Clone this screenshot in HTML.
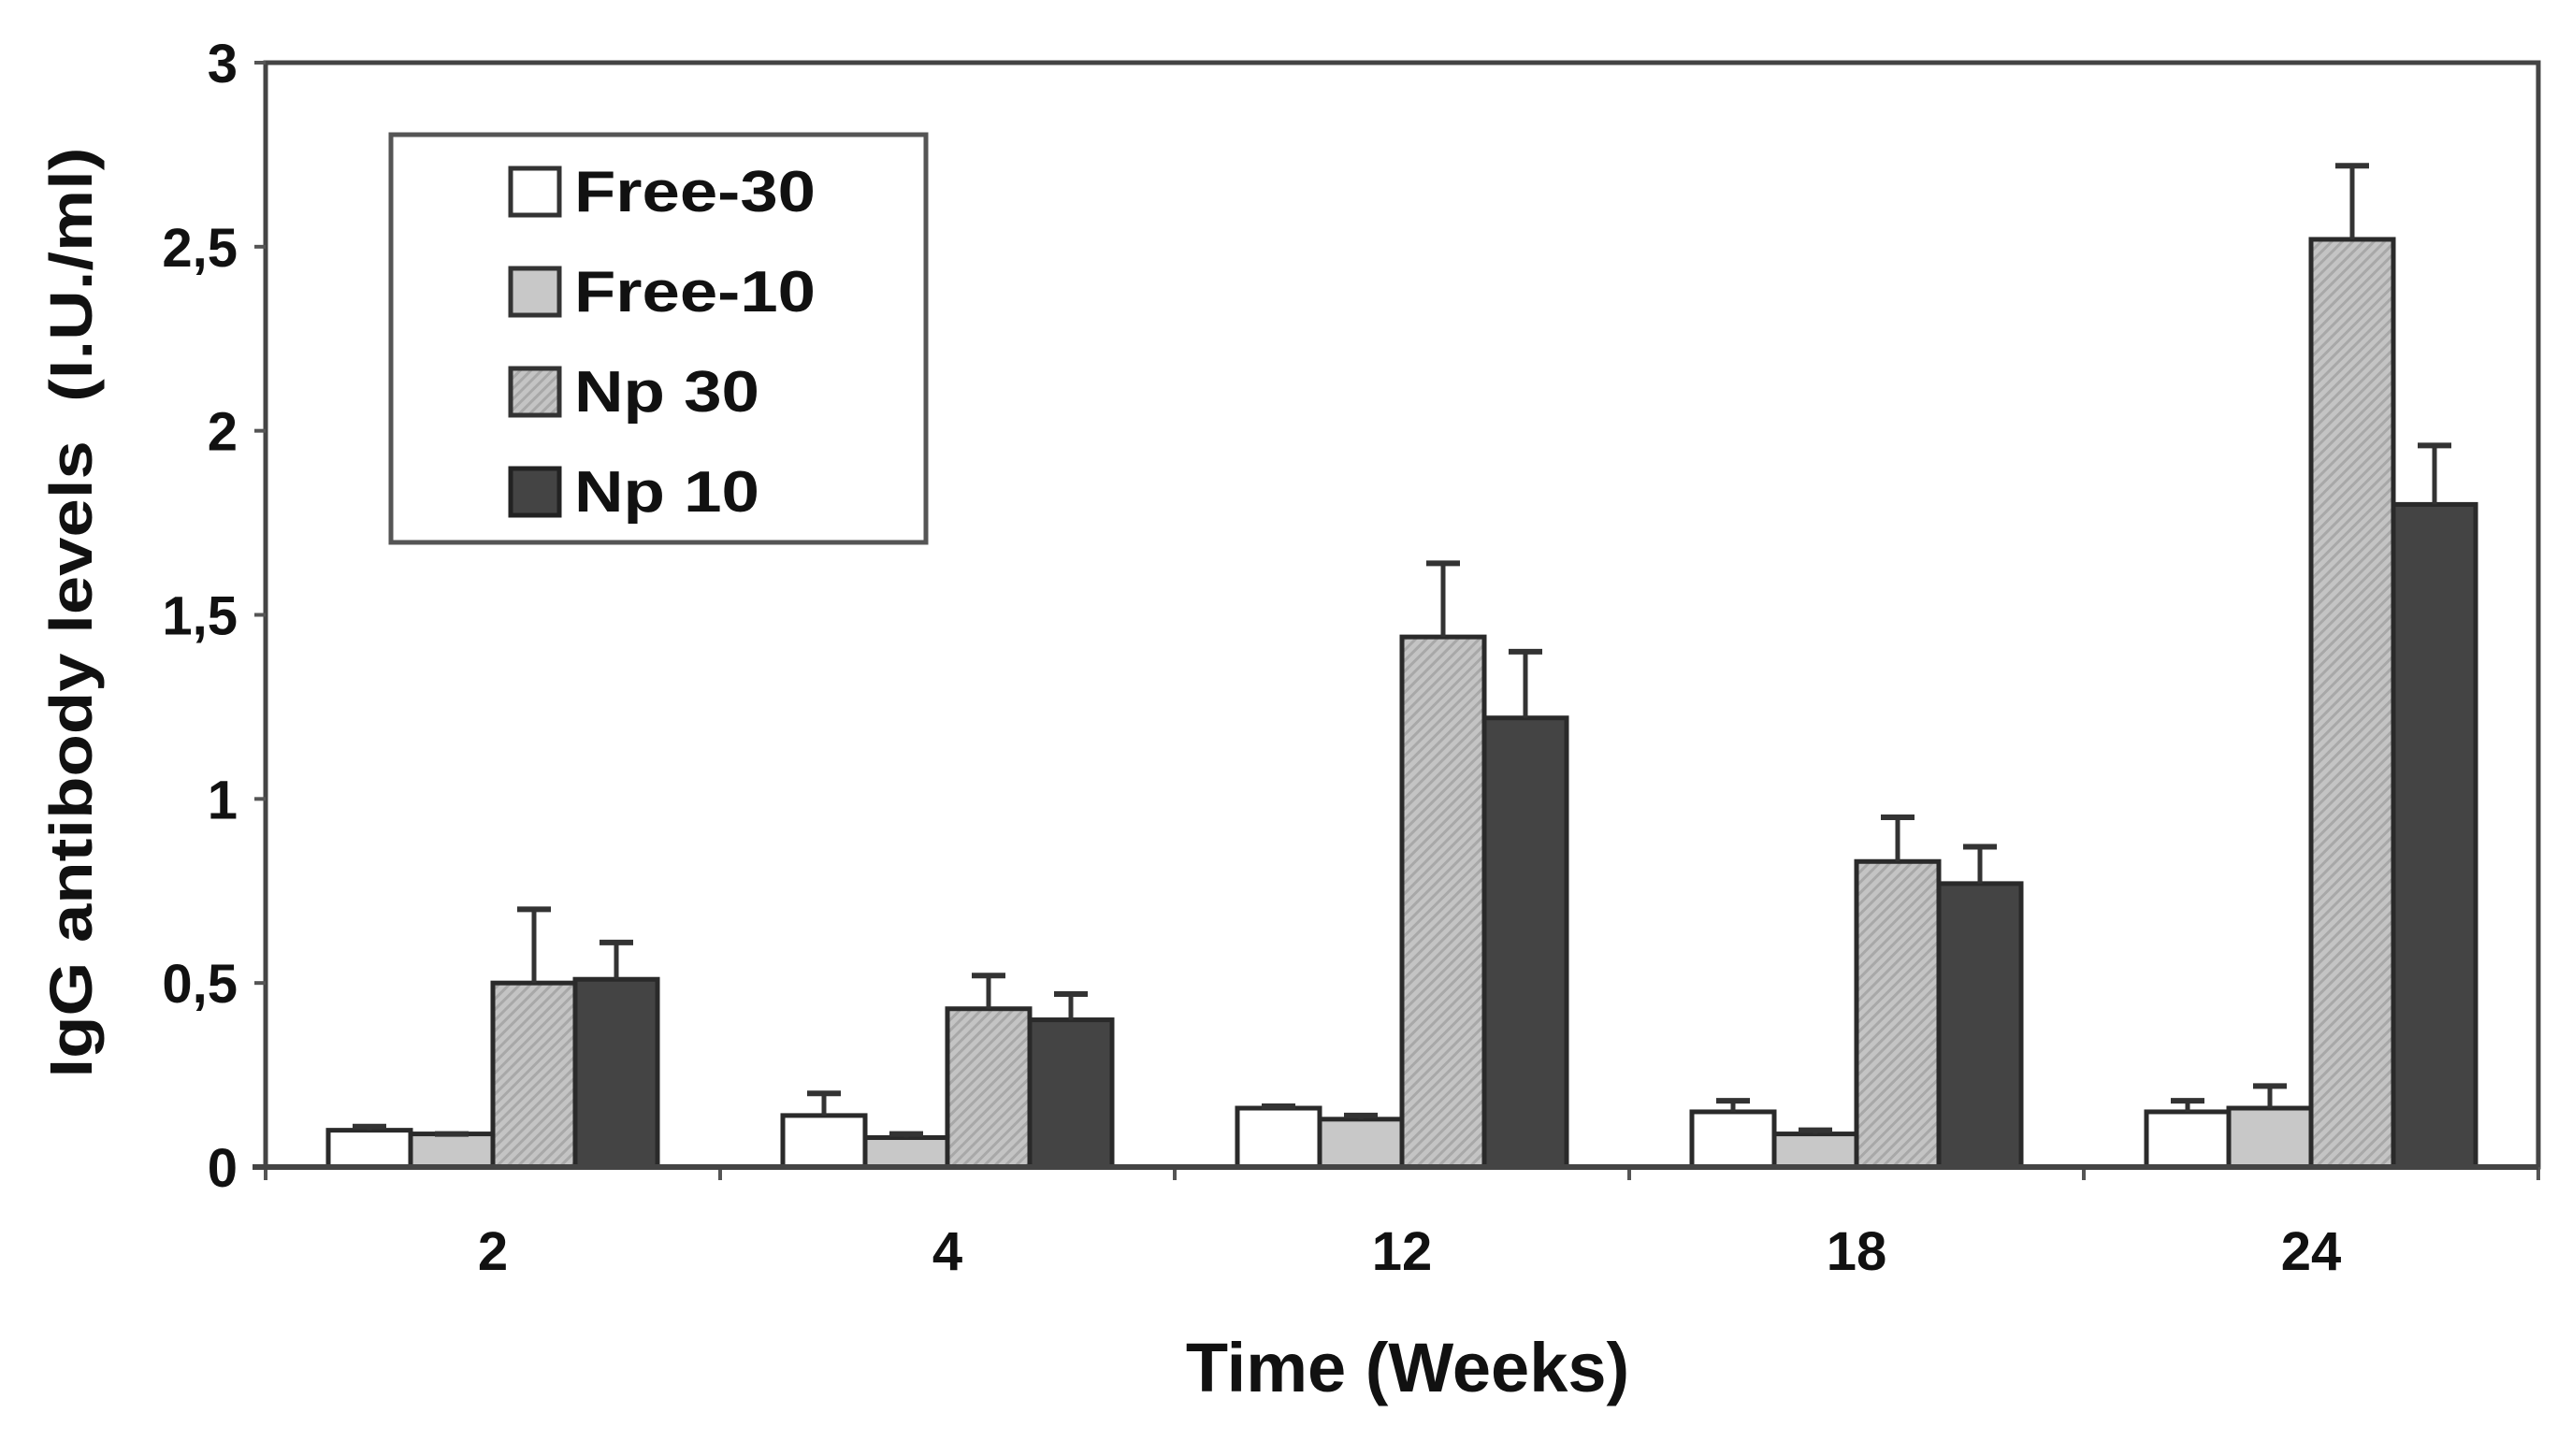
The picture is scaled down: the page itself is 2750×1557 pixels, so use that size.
<!DOCTYPE html>
<html><head><meta charset="utf-8"><style>
html,body{margin:0;padding:0;background:#fff;}
svg{display:block;font-family:"Liberation Sans",Arial,sans-serif;}
</style></head><body>
<svg id="chart" width="2750" height="1557" viewBox="0 0 2750 1557" xmlns="http://www.w3.org/2000/svg">
<defs>
<pattern id="hatch" patternUnits="userSpaceOnUse" width="8" height="8" patternTransform="rotate(45)">
<rect width="8" height="8" fill="#c4c4c4"/><rect width="3" height="8" fill="#a8a8a8"/>
</pattern>
</defs>
<g id="plot"></g>
<g id="legend">
<rect x="418" y="144" width="572" height="436" fill="#fff" stroke="#555" stroke-width="5"/>
<rect x="546" y="180" width="52" height="50" fill="#fff" stroke="#333" stroke-width="5"/>
<text x="614" y="226" font-size="62" font-weight="bold" fill="#111" textLength="258" lengthAdjust="spacingAndGlyphs">Free-30</text>
<rect x="546" y="287" width="52" height="50" fill="#c8c8c8" stroke="#333" stroke-width="5"/>
<text x="614" y="333" font-size="62" font-weight="bold" fill="#111" textLength="258" lengthAdjust="spacingAndGlyphs">Free-10</text>
<rect x="546" y="394" width="52" height="50" fill="url(#hatch)" stroke="#333" stroke-width="5"/>
<text x="614" y="440" font-size="62" font-weight="bold" fill="#111" textLength="198" lengthAdjust="spacingAndGlyphs">Np 30</text>
<rect x="546" y="501" width="52" height="50" fill="#444" stroke="#222" stroke-width="5"/>
<text x="614" y="547" font-size="62" font-weight="bold" fill="#111" textLength="198" lengthAdjust="spacingAndGlyphs">Np 10</text>
</g>
<text x="1505" y="1488" font-size="74" font-weight="bold" text-anchor="middle" fill="#111">Time (Weeks)</text>
<text transform="translate(98,655) rotate(-90)" font-size="64" font-weight="bold" text-anchor="middle" fill="#111" textLength="995" lengthAdjust="spacingAndGlyphs" xml:space="preserve">IgG antibody levels  (I.U./ml)</text>
</svg>
<script>
const categories = ['2','4','12','18','24'];
const seriesNames = ['Free-30','Free-10','Np 30','Np 10'];
const free30 = [0.10,0.14,0.16,0.15,0.15];
const free10 = [0.09,0.08,0.13,0.09,0.16];
const np30 = [0.50,0.43,1.44,0.83,2.52];
const np10 = [0.51,0.40,1.22,0.77,1.80];
const free30Err = [0.11,0.20,0.165,0.18,0.18];
const free10Err = [0.09,0.09,0.14,0.10,0.22];
const np30Err = [0.70,0.52,1.64,0.95,2.72];
const np10Err = [0.61,0.47,1.40,0.87,1.96];
const yTicks = [0,0.5,1,1.5,2,2.5,3];
const yTickLabels = ['0','0,5','1','1,5','2','2,5','3'];

const NS='http://www.w3.org/2000/svg';
const X0=284, X1=2714, Y0=1248, YT=67;
const gw=(X1-X0)/categories.length;
const bw=88;
const y=v=>Y0-(v/3)*(Y0-YT);
const plot=document.getElementById('plot');
function mk(tag,attrs){const e=document.createElementNS(NS,tag);for(const k in attrs)e.setAttribute(k,attrs[k]);plot.appendChild(e);return e;}
const frame=mk('rect',{x:X0,y:YT,width:X1-X0,height:Y0-YT,fill:'none',stroke:'#444',"stroke-width":5});


yTicks.forEach((t,i)=>{
  const tk=mk('line',{x1:X0-12,x2:X0,y1:y(t),y2:y(t),stroke:'#555','stroke-width':4});
  
  
  const lb=mk('text',{x:X0-30,y:y(t)+21,'font-size':58,'font-weight':'bold','text-anchor':'end',fill:'#111'});
  lb.textContent=yTickLabels[i];
  
  
});
for(let i=0;i<=categories.length;i++){
  const tk=mk('line',{x1:X0+i*gw,x2:X0+i*gw,y1:Y0,y2:Y0+14,stroke:'#555','stroke-width':4});
  
  
}
const series=[free30,free10,np30,np10];
const errs=[free30Err,free10Err,np30Err,np10Err];
const fills=['#fff','#c8c8c8','url(#hatch)','#444'];
categories.forEach((c,i)=>{
  const gx=X0+i*gw+(gw-4*bw)/2;
  series.forEach((s,j)=>{
    const bx=gx+j*bw;
    const r=mk('rect',{x:bx,y:y(s[i]),width:bw,height:Y0-y(s[i]),fill:fills[j],stroke:'#2a2a2a','stroke-width':5});
    
    
    const cx=bx+bw/2;
    const el=mk('line',{x1:cx,x2:cx,y1:y(errs[j][i]),y2:y(s[i]),stroke:'#333','stroke-width':5});
    
    
    const cap=mk('line',{x1:cx-18,x2:cx+18,y1:y(errs[j][i]),y2:y(errs[j][i]),stroke:'#333','stroke-width':6});
    
    
  });
  const lb=mk('text',{x:X0+i*gw+gw/2,y:1358,'font-size':58,'font-weight':'bold','text-anchor':'middle',fill:'#111'});
  lb.textContent=c;
  
  
});
const ax=mk('line',{x1:X0-14,x2:X1,y1:Y0,y2:Y0,stroke:'#444','stroke-width':6});


</script>
</body></html>
